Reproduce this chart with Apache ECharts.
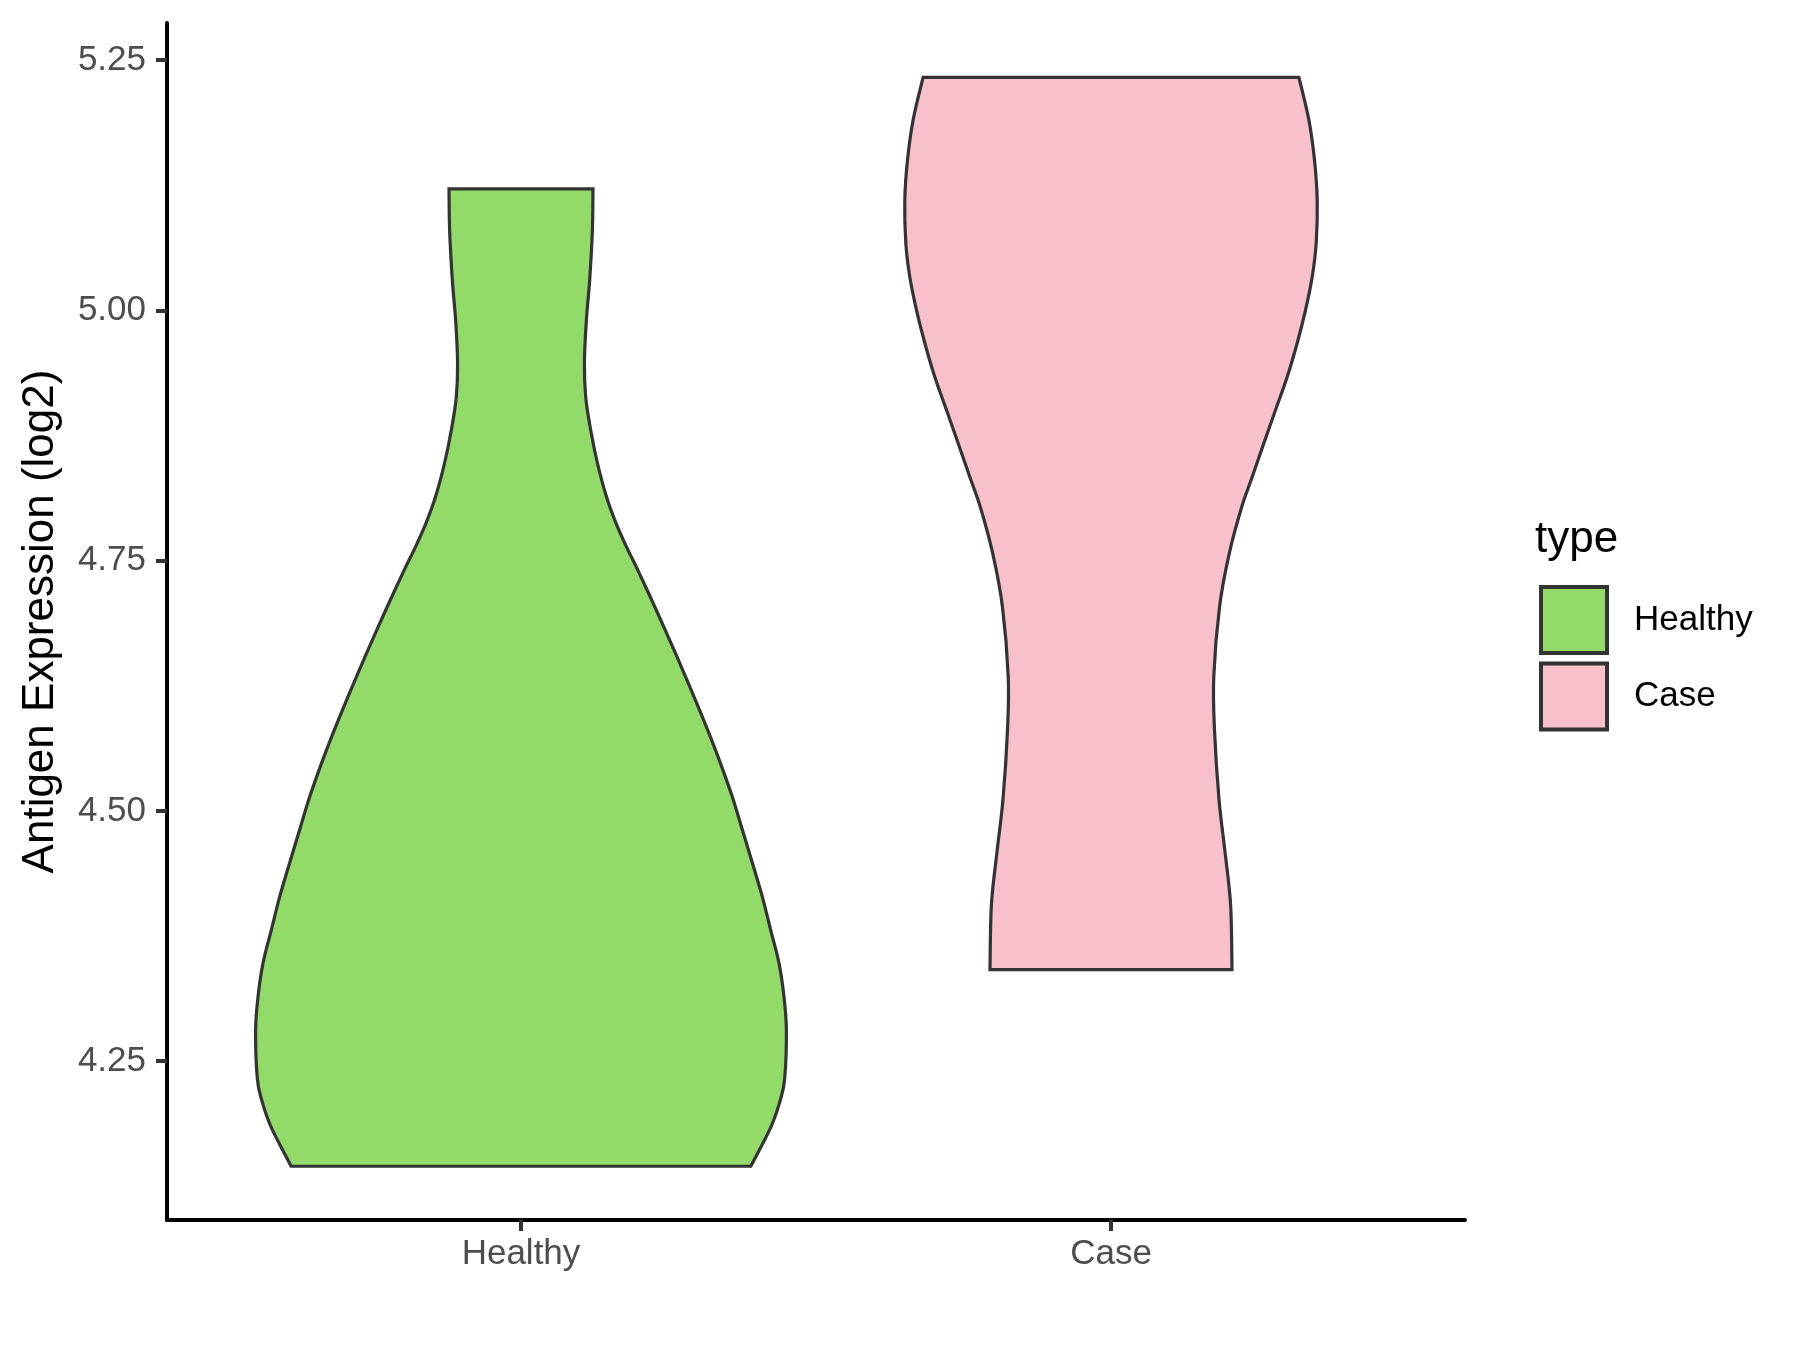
<!DOCTYPE html>
<html>
<head>
<meta charset="utf-8">
<script src="https://cdn.jsdelivr.net/npm/echarts@6/dist/echarts.min.js"></script>
<style>
  html, body { margin: 0; padding: 0; background: #fff; }
  #chart { width: 1800px; height: 1350px; }
</style>
</head>
<body>
<div id="chart"></div>
<script>
// categories on the x axis (positions 1 and 2)
const categories = ['Healthy', 'Case'];
const yTicks = [4.25, 4.5, 4.75, 5.0, 5.25];

// violin outlines, read top to bottom: y value and half width (x units)
const healthyY = [5.1215, 5.0804, 5.0304, 4.9904, 4.9475, 4.9135, 4.8805, 4.8476, 4.8136, 4.7876, 4.7636, 4.7406,
  4.7107, 4.6807, 4.6477, 4.6138, 4.5808, 4.5478, 4.5138, 4.4809, 4.4479, 4.4139, 4.3810, 4.3480,
  4.3140, 4.2810, 4.2331, 4.2111, 4.1841, 4.1450];
const healthyHalfWidth = [0.1220, 0.1210, 0.1164, 0.1108, 0.1075, 0.1097, 0.1181, 0.1295, 0.1450, 0.1610, 0.1790, 0.1980,
  0.2215, 0.2445, 0.2690, 0.2935, 0.3165, 0.3380, 0.3583, 0.3753, 0.3922, 0.4092, 0.4232, 0.4373,
  0.4458, 0.4498, 0.4470, 0.4395, 0.4235, 0.3895];

const caseY = [5.2329, 5.1903, 5.1503, 5.1103, 5.0674, 5.0334, 5.0004, 4.9675, 4.9335, 4.9005, 4.8675, 4.8336,
  4.8026, 4.7560, 4.7040, 4.6341, 4.5812, 4.5112, 4.4593, 4.4063, 4.3414];
const caseHalfWidth = [0.3185, 0.3354, 0.3449, 0.3495, 0.3478, 0.3410, 0.3297, 0.3156, 0.2986, 0.2788, 0.2592, 0.2393,
  0.2210, 0.2000, 0.1840, 0.1742, 0.1754, 0.1831, 0.1932, 0.2027, 0.2051];

const colors = { Healthy: '#93DB69', Case: '#F7C0CB' };
const outline = '#333333';
const font = 'Liberation Sans, Arial, sans-serif';

// catmull-rom through pixel points -> bezier path segments
function splinePath(pts) {
  let d = '';
  for (let i = 0; i < pts.length - 1; i++) {
    const p0 = pts[i - 1] || pts[i];
    const p1 = pts[i];
    const p2 = pts[i + 1];
    const p3 = pts[i + 2] || p2;
    const c1 = [p1[0] + (p2[0] - p0[0]) / 6, p1[1] + (p2[1] - p0[1]) / 6];
    const c2 = [p2[0] - (p3[0] - p1[0]) / 6, p2[1] - (p3[1] - p1[1]) / 6];
    d += ' C' + c1[0] + ',' + c1[1] + ' ' + c2[0] + ',' + c2[1] + ' ' + p2[0] + ',' + p2[1];
  }
  return d;
}

function violin(ys, hws, center) {
  return function (params, api) {
    const left = [], right = [];
    for (let i = 0; i < ys.length; i++) {
      left.push(api.coord([center - hws[i], ys[i]]));
      right.push(api.coord([center + hws[i], ys[i]]));
    }
    right.reverse();
    let d = 'M' + left[0][0] + ',' + left[0][1];
    d += splinePath(left);
    d += ' L' + right[0][0] + ',' + right[0][1];
    d += splinePath(right);
    d += ' Z';
    return {
      type: 'path',
      shape: { pathData: d },
      style: api.style({ lineWidth: 3.2, stroke: outline, lineJoin: 'miter' })
    };
  };
}

const chart = echarts.init(document.getElementById('chart'), null, { renderer: 'canvas' });

chart.setOption({
  animation: false,
  backgroundColor: '#ffffff',
  textStyle: { fontFamily: font },
  grid: { left: 167, right: 335, top: 23, bottom: 130, containLabel: false },
  title: {
    text: 'type',
    left: 1535,
    top: 518,
    padding: 0,
    textStyle: { fontSize: 44, fontWeight: 'normal', color: '#000', fontFamily: font }
  },
  legend: {
    orient: 'vertical',
    left: 1539,
    top: 585,
    padding: 0,
    itemWidth: 66,
    itemHeight: 66,
    itemGap: 6.5,
    textStyle: { fontSize: 35, color: '#000', padding: [0, 0, 0, 22], fontFamily: font },
    data: categories.map(function (c) {
      return { name: c, icon: 'rect', itemStyle: { color: colors[c], borderColor: outline, borderWidth: 4 } };
    })
  },
  xAxis: {
    type: 'value',
    min: 0.4,
    max: 2.6,
    splitLine: { show: false },
    axisLine: { show: true, onZero: false, lineStyle: { color: '#000', width: 4 } },
    axisTick: { show: true, customValues: [1, 2], length: 11, lineStyle: { color: '#333', width: 4 } },
    axisLabel: {
      customValues: [1, 2],
      formatter: function (v) { return categories[Math.round(v) - 1]; },
      fontSize: 35,
      color: '#4D4D4D',
      margin: 17
    }
  },
  yAxis: {
    type: 'value',
    min: 4.0913,
    max: 5.2872,
    name: 'Antigen Expression (log2)',
    nameLocation: 'middle',
    nameGap: 104,
    nameTextStyle: { fontSize: 44, color: '#000' },
    splitLine: { show: false },
    axisLine: { show: true, onZero: false, lineStyle: { color: '#000', width: 4 } },
    axisTick: { show: true, customValues: yTicks, length: 11, lineStyle: { color: '#333', width: 4 } },
    axisLabel: {
      customValues: yTicks,
      formatter: function (v) { return v.toFixed(2); },
      fontSize: 35,
      color: '#4D4D4D',
      margin: 21
    }
  },
  series: [
    {
      name: 'Healthy',
      type: 'custom',
      renderItem: violin(healthyY, healthyHalfWidth, 1),
      itemStyle: { color: colors.Healthy, borderColor: outline, borderWidth: 3 },
      data: [[1, healthyY[0]]],
      encode: { x: 0, y: 1 }
    },
    {
      name: 'Case',
      type: 'custom',
      renderItem: violin(caseY, caseHalfWidth, 2),
      itemStyle: { color: colors.Case, borderColor: outline, borderWidth: 3 },
      data: [[2, caseY[0]]],
      encode: { x: 0, y: 1 }
    }
  ]
});
</script>
</body>
</html>
